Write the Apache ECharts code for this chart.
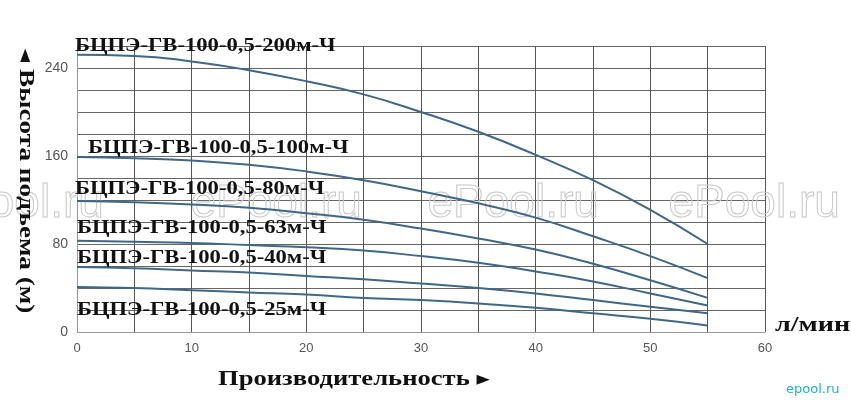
<!DOCTYPE html>
<html>
<head>
<meta charset="utf-8">
<script src="https://cdn.jsdelivr.net/npm/echarts@6/dist/echarts.min.js"></script>
<style>html,body{margin:0;padding:0;background:#fff}#c{width:851px;height:403px}</style>
</head>
<body>
<div id="c"></div>
<script>
const flow = [0, 5, 10, 15, 20, 25, 30, 35, 40, 45, 50, 55];
const pump200 = [252, 251, 246, 238, 228, 216, 200, 182, 161, 138, 111, 80];
const pump100 = [159, 158, 156, 152, 146, 138, 128, 117, 104, 87, 69, 49];
const pump80 = [119, 118, 116, 113, 108, 102, 94, 85, 75, 62, 47, 31];
const pump63 = [83, 82, 81, 79, 77, 74, 69, 63, 55, 46, 35, 24];
const pump40 = [59, 58, 56, 54, 51, 48, 44, 40, 35, 29, 23, 17];
const pump25 = [41, 40, 38, 36, 34, 31, 29, 26, 22, 17, 12, 6];
const seriesNames = ['БЦПЭ-ГВ-100-0,5-200м-Ч', 'БЦПЭ-ГВ-100-0,5-100м-Ч', 'БЦПЭ-ГВ-100-0,5-80м-Ч',
  'БЦПЭ-ГВ-100-0,5-63м-Ч', 'БЦПЭ-ГВ-100-0,5-40м-Ч', 'БЦПЭ-ГВ-100-0,5-25м-Ч'];
const xTickLabels = [0, 10, 20, 30, 40, 50, 60];
const yTickLabels = [0, 80, 160, 240];
const yAxisTitle = '◂ Высота подъема (м)';
const xAxisTitle = 'Производительность ▸';
const unitLabel = 'л/мин';
const watermark = 'ePool.ru';
const logo = 'epool.ru';

const allSeries = [pump200, pump100, pump80, pump63, pump40, pump25];
const chart = echarts.init(document.getElementById('c'));

const labelPos = [[75, 37], [88, 139], [75, 180], [77, 219], [77, 249], [77, 301]];
const serif = '"Liberation Serif","DejaVu Serif",serif';
const graphics = [];
seriesNames.forEach((n, i) => {
  graphics.push({type: 'text', x: labelPos[i][0], y: labelPos[i][1], scaleX: 1.19, z: 10,
    style: {text: n, font: 'bold 19px ' + serif, fill: '#111', verticalAlign: 'top'}});
});
[-68, 190, 427, 668].forEach(x => {
  graphics.push({type: 'text', left: x, top: 181, z: 1, silent: true,
    style: {text: watermark, font: '46px "Liberation Sans",Arial,sans-serif', fill: 'rgba(255,255,255,0)', stroke: '#c8c8c8', lineWidth: 1}});
});
graphics.push({type: 'text', x: 25, y: 181, rotation: -Math.PI / 2, scaleX: 1.36, z: 10,
  style: {text: yAxisTitle, font: 'bold 20px ' + serif, fill: '#111', align: 'center', verticalAlign: 'middle'}});
graphics.push({type: 'text', x: 218, y: 380, scaleX: 1.33, z: 10,
  style: {text: xAxisTitle, font: 'bold 20px ' + serif, fill: '#111', verticalAlign: 'middle'}});
graphics.push({type: 'text', x: 775, y: 325, scaleX: 1.28, z: 10,
  style: {text: unitLabel, font: 'bold 22px ' + serif, fill: '#111', verticalAlign: 'middle'}});
graphics.push({type: 'text', left: 786, top: 383, z: 10,
  style: {text: logo, font: '13px "DejaVu Sans",sans-serif', fill: '#19b3dd'}});

chart.setOption({
  animation: false,
  backgroundColor: '#fff',
  grid: {left: 77, right: 86, top: 46, bottom: 71},
  xAxis: {
    type: 'value', min: 0, max: 60, interval: 5,
    axisLine: {show: true, lineStyle: {color: '#999'}},
    axisTick: {show: false},
    axisLabel: {color: '#555', fontSize: 13, fontFamily: '"Liberation Sans",Arial,sans-serif', margin: 10,
      formatter: v => xTickLabels.includes(v) ? String(v) : ''},
    splitLine: {show: true, lineStyle: {color: '#555', width: 1}}
  },
  yAxis: {
    type: 'value', min: 0, max: 260, interval: 20,
    axisLine: {show: true, lineStyle: {color: '#999'}},
    axisTick: {show: false},
    axisLabel: {color: '#555', fontSize: 14, fontFamily: '"Liberation Sans",Arial,sans-serif', margin: 9,
      formatter: v => yTickLabels.includes(v) ? String(v) : ''},
    splitLine: {show: true, lineStyle: {color: '#666', width: 1}}
  },
  series: allSeries.map((d, i) => ({
    name: seriesNames[i], type: 'line', smooth: true, showSymbol: false, z: 5,
    data: d.map((v, j) => [flow[j], v]),
    lineStyle: {color: '#3f6888', width: 2}
  })),
  graphic: graphics
});
</script>
</body>
</html>
